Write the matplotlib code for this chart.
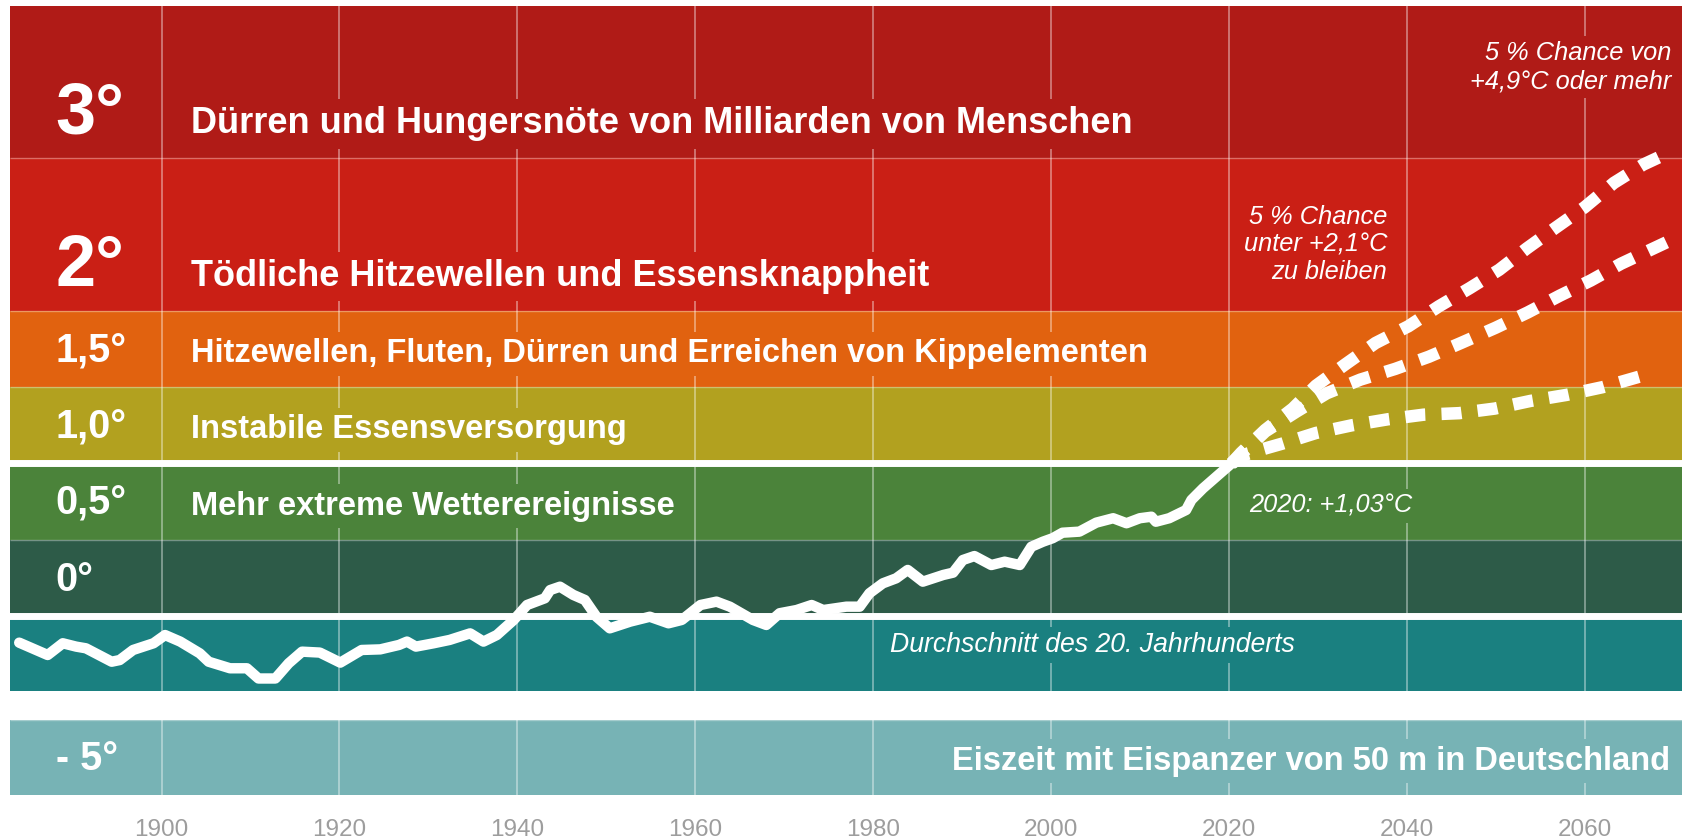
import matplotlib
matplotlib.use('Agg')
import matplotlib.pyplot as plt

plt.rcParams['font.family'] = ['Liberation Sans', 'DejaVu Sans']

# global temperature anomaly vs. 20th century mean
years = [1884.0, 1887.2, 1888.9, 1890.4, 1891.5, 1894.4, 1895.3, 1896.8, 1899.1, 1900.4,
         1902.1, 1904.3, 1905.3, 1907.7, 1909.6, 1910.9, 1912.8, 1914.3, 1915.8, 1917.8,
         1920.1, 1922.5, 1924.6, 1926.7, 1927.6, 1928.6, 1930.6, 1932.4, 1934.7, 1936.2,
         1937.7, 1939.6, 1941.1, 1943.1, 1943.7, 1944.8, 1946.3, 1947.6, 1948.9, 1950.4,
         1952.7, 1954.9, 1957.0, 1958.5, 1960.6, 1962.4, 1963.9, 1966.5, 1968.0, 1969.5,
         1971.4, 1973.1, 1974.4, 1977.0, 1978.5, 1979.6, 1981.1, 1982.6, 1983.9, 1985.6,
         1987.9, 1989.0, 1990.1, 1991.4, 1993.3, 1994.8, 1996.5, 1997.8, 1999.1, 2000.2,
         2001.3, 2003.2, 2005.1, 2007.0, 2008.5, 2010.0, 2011.3, 2011.8, 2013.3, 2015.2,
         2015.8, 2017.1, 2020.3]
temps = [-0.175, -0.256, -0.179, -0.201, -0.212, -0.300, -0.289, -0.223, -0.179, -0.125,
         -0.168, -0.245, -0.300, -0.343, -0.343, -0.410, -0.410, -0.310, -0.234, -0.240,
         -0.306, -0.223, -0.219, -0.190, -0.168, -0.201, -0.179, -0.157, -0.114, -0.168,
         -0.125, -0.026, 0.072, 0.116, 0.170, 0.192, 0.138, 0.105, -0.005, -0.081,
         -0.037, -0.005, -0.048, -0.026, 0.072, 0.094, 0.061, -0.026, -0.059, 0.018,
         0.039, 0.072, 0.039, 0.061, 0.061, 0.149, 0.214, 0.247, 0.302, 0.225,
         0.269, 0.284, 0.367, 0.393, 0.334, 0.356, 0.334, 0.454, 0.487, 0.510,
         0.546, 0.553, 0.612, 0.641, 0.608, 0.641, 0.651, 0.618, 0.641, 0.695,
         0.761, 0.837, 1.000]

# projections
high_years = [2020.3, 2021.4, 2024.1, 2027.2, 2029.8, 2033.1, 2036.5, 2040.2, 2043.6,
              2047.1, 2050.4, 2053.5, 2056.6, 2060.0, 2063.3, 2066.6, 2068.8]
high_temps = [1.00, 1.07, 1.22, 1.36, 1.51, 1.65, 1.79, 1.90, 2.03,
              2.15, 2.27, 2.41, 2.54, 2.68, 2.84, 2.96, 3.02]
mid_years = [2020.3, 2024.1, 2027.6, 2031.0, 2034.8, 2038.7, 2042.5, 2046.1, 2050.0,
             2053.6, 2057.2, 2060.7, 2064.1, 2069.2]
mid_temps = [1.00, 1.21, 1.34, 1.46, 1.55, 1.62, 1.70, 1.79, 1.89,
             1.99, 2.10, 2.20, 2.31, 2.45]
low_years = [2020.3, 2022.2, 2026.0, 2029.8, 2033.8, 2037.9, 2041.9, 2045.9, 2049.9,
             2053.9, 2058.0, 2062.0, 2066.8]
low_temps = [1.00, 1.067, 1.13, 1.20, 1.25, 1.29, 1.32, 1.33, 1.36,
             1.41, 1.45, 1.50, 1.58]

# warming levels
band_low = [3.0, 2.0, 1.5, 1.0, 0.5, 0.0, -0.49, -1.174]
band_high = [4.0, 3.0, 2.0, 1.5, 1.0, 0.5, 0.0, -0.682]
band_labels = ['3°', '2°', '1,5°', '1,0°', '0,5°', '0°', '', '- 5°']
band_texts = ['Dürren und Hungersnöte von Milliarden von Menschen',
              'Tödliche Hitzewellen und Essensknappheit',
              'Hitzewellen, Fluten, Dürren und Erreichen von Kippelementen',
              'Instabile Essensversorgung',
              'Mehr extreme Wetterereignisse',
              '', '',
              'Eiszeit mit Eispanzer von 50 m in Deutschland']
band_colors = ['#B01B17', '#CA1F15', '#E1620F', '#B2A11F', '#4B833A', '#2D5B48',
               '#1A8080', '#77B3B5']

tick_years = [1900, 1920, 1940, 1960, 1980, 2000, 2020, 2040, 2060]

W, H = 1683, 839
fig = plt.figure(figsize=(W / 100, H / 100), dpi=100)
ax = fig.add_axes([9.7 / W, 44 / H, 1 - 9.7 / W, 789 / H])
x0, x1 = 1882.93, 2071.07
ax.set_xlim(x0, x1)
ax.set_ylim(-1.174, 4.0)

for lo, hi, c in zip(band_low, band_high, band_colors):
    ax.axhspan(lo, hi, color=c, lw=0, zorder=0)

# grid only inside the coloured areas
ax.vlines(tick_years, -0.49, 4.0, colors='white', alpha=0.45, lw=1.2, zorder=1)
ax.vlines(tick_years, -1.174, -0.682, colors='white', alpha=0.45, lw=1.2, zorder=1)
ax.hlines([3.0, 2.0, 1.5, 0.5, -0.682], x0, x1, colors='white', alpha=0.35, lw=1.0, zorder=1)

ax.axhline(0.0, color='white', lw=5, zorder=2)
ax.axhline(1.0, color='white', lw=5, zorder=2)

for i, (lo, lab, txt, c) in enumerate(zip(band_low, band_labels, band_texts, band_colors)):
    big = i < 2
    base = lo + 0.165
    if lab:
        ax.text(1888.1, base, lab, color='white', fontweight='bold',
                fontsize=52 if big else 28.5, va='baseline', ha='left', zorder=3)
    if not txt:
        continue
    box = dict(boxstyle='square,pad=0.2', fc=c, ec='none')
    if lo < -0.5:
        ax.text(2069.6, base, txt, color='white', fontweight='bold', fontsize=23.5,
                va='baseline', ha='right', bbox=box, zorder=3)
    else:
        ax.text(1903.3, base, txt, color='white', fontweight='bold',
                fontsize=26 if big else 23.5, va='baseline', ha='left', bbox=box, zorder=3)

# multi-line notes are anchored at the baseline of their last line
note = dict(color='white', style='italic', fontsize=18.3, va='baseline', zorder=3)
ax.text(2069.8, 3.462, '5 % Chance von\n+4,9°C oder mehr', ha='right', multialignment='right',
        bbox=dict(boxstyle='square,pad=0.2', fc=band_colors[0], ec='none'), **note)
ax.text(2037.8, 2.208, '5 % Chance\nunter +2,1°C\nzu bleiben', ha='right', multialignment='right',
        bbox=dict(boxstyle='square,pad=0.2', fc=band_colors[1], ec='none'), **note)
ax.text(2022.3, 0.677, '2020: +1,03°C', ha='left',
        bbox=dict(boxstyle='square,pad=0.2', fc=band_colors[4], ec='none'), **note)
note['fontsize'] = 19.2
ax.text(1981.9, -0.236, 'Durchschnitt des 20. Jahrhunderts', ha='left',
        bbox=dict(boxstyle='square,pad=0.2', fc=band_colors[6], ec='none'), **note)

ax.plot(years, temps, color='white', lw=7.5, solid_joinstyle='round',
        solid_capstyle='round', zorder=4)
for py, pt in [(high_years, high_temps), (mid_years, mid_temps), (low_years, low_temps)]:
    ax.plot(py, pt, color='white', lw=9, dashes=(1.6, 1.3), dash_capstyle='butt', zorder=4)

ax.set_xticks(tick_years)
ax.set_xticklabels([str(y) for y in tick_years])
ax.set_yticks([])
ax.tick_params(axis='x', length=0, pad=17, labelsize=17.5, labelcolor='#9d9d9d')
for s in ax.spines.values():
    s.set_visible(False)

fig.savefig('out.png', dpi=100)
